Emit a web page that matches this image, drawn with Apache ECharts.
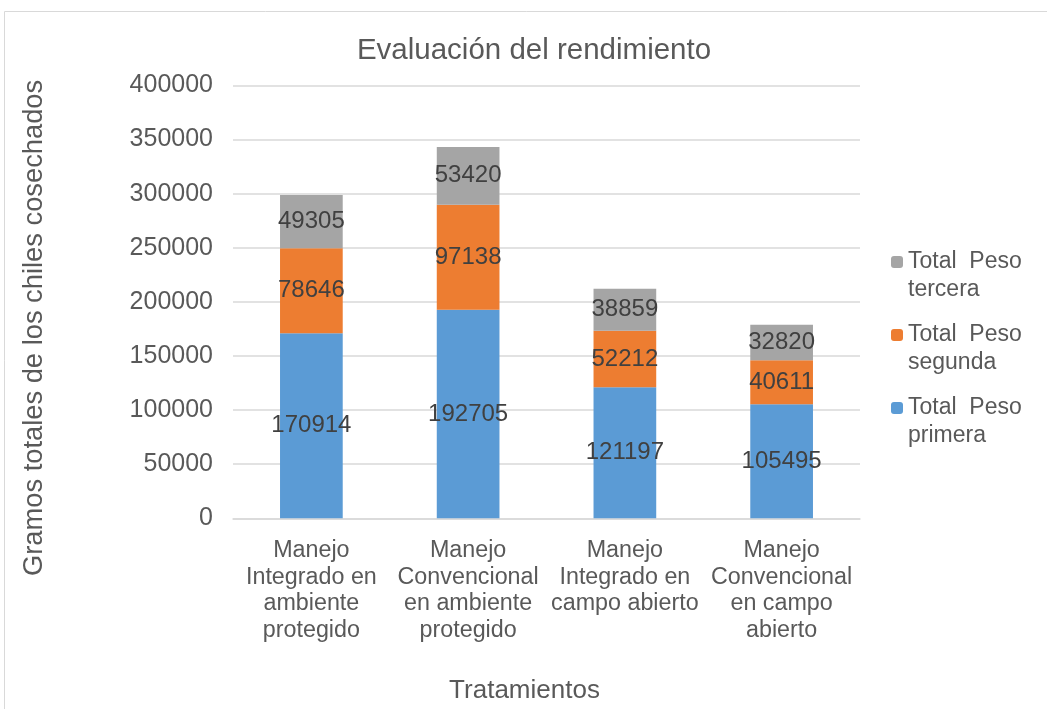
<!DOCTYPE html>
<html>
<head>
<meta charset="utf-8">
<title>Evaluación del rendimiento</title>
<script src="https://cdn.jsdelivr.net/npm/echarts@6/dist/echarts.min.js"></script>
<style>
  html, body { margin: 0; padding: 0; background: #fff; }
  #chart { width: 1047px; height: 709px; }
</style>
</head>
<body>
<div id="chart"></div>
<script>
  // categorias del eje x
  const categories = [
    'Manejo\nIntegrado en\nambiente\nprotegido',
    'Manejo\nConvencional\nen ambiente\nprotegido',
    'Manejo\nIntegrado en\ncampo abierto',
    'Manejo\nConvencional\nen campo\nabierto'
  ]
  const pesoPrimera = [170914, 192705, 121197, 105495]
  const pesoSegunda = [78646, 97138, 52212, 40611]
  const pesoTercera = [49305, 53420, 38859, 32820]
  const seriesNames = ['Total  Peso\nprimera', 'Total  Peso\nsegunda', 'Total  Peso\ntercera']

  const font = '"Liberation Sans", Arial, sans-serif'

  const chart = echarts.init(document.getElementById('chart'))

  function barSeries(name, data, color) {
    return {
      name: name,
      type: 'bar',
      stack: 'total',
      barWidth: '40%',
      data: data,
      itemStyle: { color: color },
      label: {
        show: true,
        position: 'inside',
        color: '#404040',
        fontFamily: font,
        fontSize: 24
      }
    }
  }

  chart.setOption({
    animation: false,
    title: {
      text: 'Evaluación del rendimiento',
      left: 529,
      top: 31,
      textAlign: 'center',
      textStyle: { fontFamily: font, fontSize: 29.5, fontWeight: 'normal', color: '#595959' }
    },
    graphic: [{
      type: 'rect',
      shape: { x: 4.5, y: 11.5, width: 1100, height: 800 },
      style: { fill: 'none', stroke: '#d9d9d9', lineWidth: 1 },
      silent: true
    }],
    grid: { left: 233, right: 187, top: 85.5, bottom: 190.7, outerBoundsMode: 'none' },
    legend: {
      orient: 'vertical',
      left: 891,
      top: 220,
      padding: 0,
      itemWidth: 12,
      itemHeight: 12,
      itemGap: -11,
      data: [seriesNames[2], seriesNames[1], seriesNames[0]],
      // linea vacia arriba para que el cuadro quede junto a la primera linea
      formatter: name => '\n' + name,
      textStyle: { fontFamily: font, fontSize: 23, color: '#595959', lineHeight: 28 }
    },
    xAxis: {
      type: 'category',
      data: categories,
      name: 'Tratamientos',
      nameLocation: 'middle',
      nameGap: 160,
      nameTextStyle: { fontFamily: font, fontSize: 26, color: '#595959', padding: [0, 44, 0, 0] },
      axisLine: { lineStyle: { color: '#d9d9d9', width: 1.5 } },
      axisTick: { show: false },
      axisLabel: {
        interval: 0,
        margin: 19,
        fontFamily: font, fontSize: 23.3, color: '#595959', lineHeight: 26.7
      }
    },
    yAxis: {
      type: 'value',
      min: 0,
      max: 400000,
      interval: 50000,
      name: 'Gramos totales de los chiles cosechados',
      nameLocation: 'middle',
      nameGap: 185,
      nameTextStyle: { fontFamily: font, fontSize: 27.3, color: '#595959', padding: [0, 52, 0, 0] },
      axisLine: { show: false },
      axisTick: { show: false },
      axisLabel: {
        margin: 20, fontFamily: font, fontSize: 25, color: '#595959',
        formatter: value => String(value)
      },
      splitLine: { lineStyle: { color: '#d9d9d9', width: 1.5 } }
    },
    series: [
      barSeries(seriesNames[0], pesoPrimera, '#5b9bd5'),
      barSeries(seriesNames[1], pesoSegunda, '#ed7d31'),
      barSeries(seriesNames[2], pesoTercera, '#a5a5a5')
    ]
  })
</script>
</body>
</html>
